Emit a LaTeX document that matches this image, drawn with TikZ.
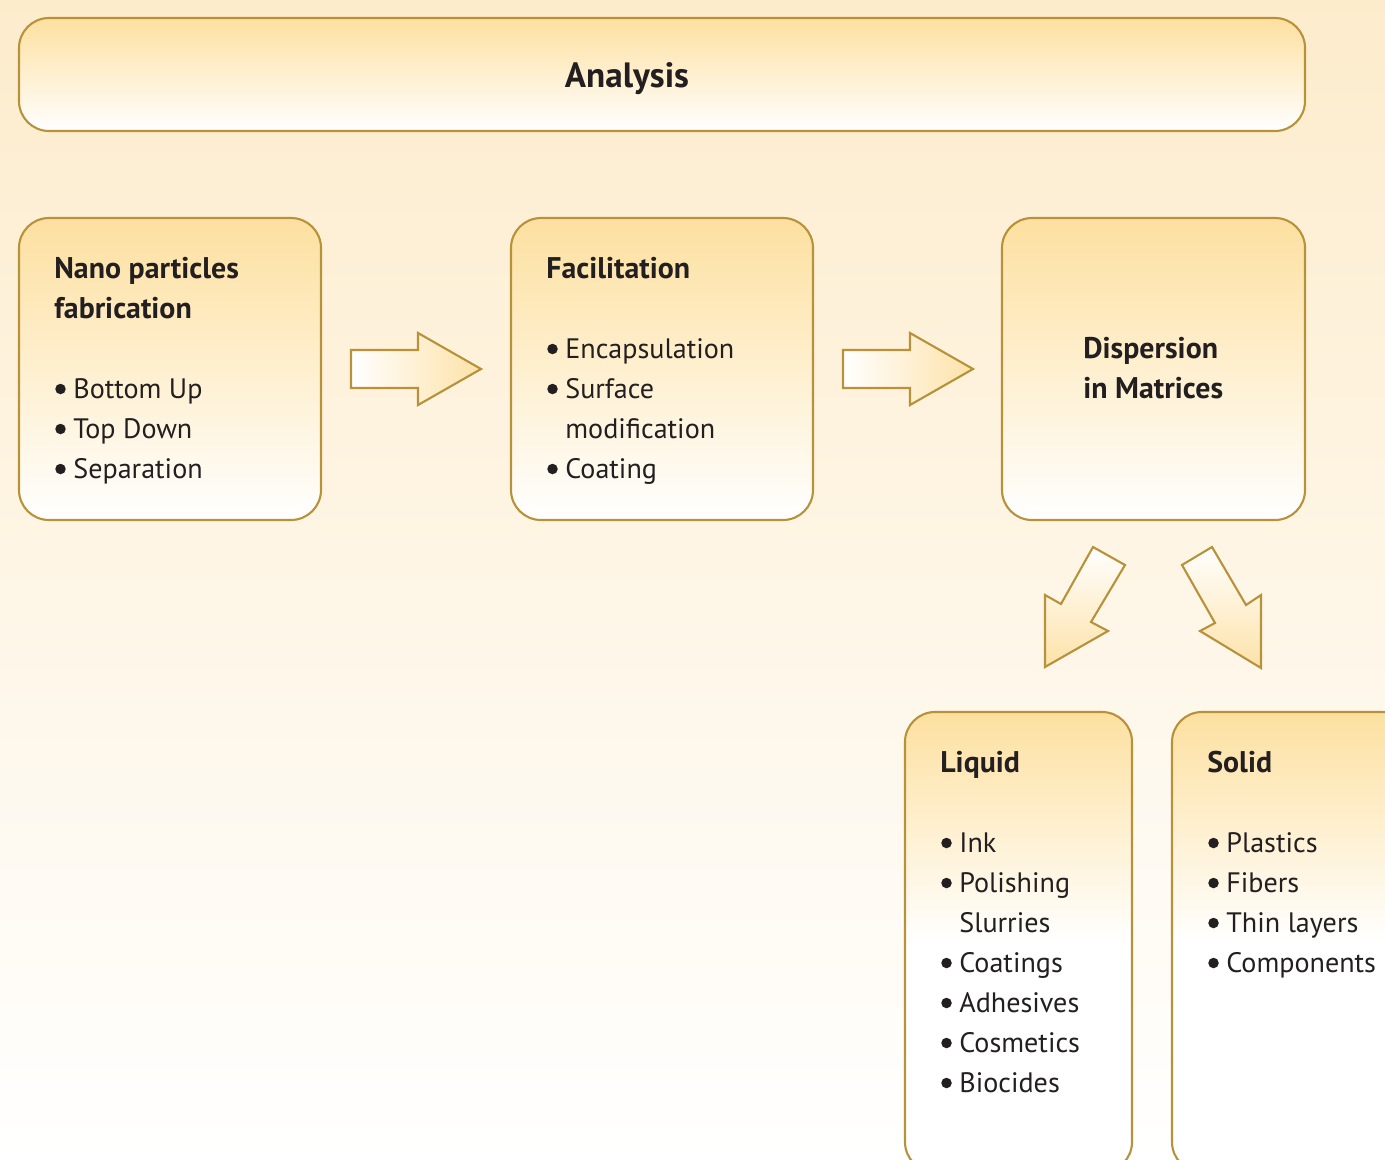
\documentclass[tikz,border=0pt]{standalone}
\usepackage{fontspec}
\setmainfont{PT Sans}
\definecolor{boxline}{RGB}{184,146,58}
\definecolor{boxtop}{RGB}{253,224,160}
\definecolor{bgtop}{RGB}{253,236,204}
\definecolor{arrowend}{RGB}{253,226,168}
\definecolor{inktxt}{RGB}{35,31,32}
\tikzset{
  stepbox/.style={draw=boxline, line width=1.2pt, rounded corners=0.6cm,
    top color=boxtop, bottom color=white},
  tallbox/.style={stepbox, middle color=white},
  blockarr/.style={draw=boxline, line width=1.2pt, line join=miter},
  boxtitle/.style={anchor=base west, inner sep=0pt, text=inktxt,
    font=\fontsize{17}{20}\selectfont\bfseries},
  boxitem/.style={anchor=base west, inner sep=0pt, text=inktxt,
    font=\fontsize{16}{19}\selectfont},
  bulletdot/.style={fill=inktxt},
}

\begin{document}
\begin{tikzpicture}[x=0.02cm, y=-0.02cm]
    \useasboundingbox (0,0) rectangle (1385,1159);
    \clip (0,0) rectangle (1385,1159);
    % background
    \shade[top color=bgtop, bottom color=white] (0,0) rectangle (1385,1159);
    % analysis bar
    \draw[stepbox] (19,18) rectangle (1305,131);
    \node[boxtitle, anchor=base, font=\fontsize{20}{24}\selectfont\bfseries]
      (analysis) at (627,88) {Analysis};
    % the three steps
    \draw[stepbox] (19,218) rectangle (321,520);
    \draw[stepbox] (511,218) rectangle (813,520);
    \draw[stepbox] (1002,218) rectangle (1305,520);
    % the two kinds of matrix
    \draw[tallbox] (905,712) rectangle (1132,1172);
    \draw[tallbox] (1172,712) rectangle (1412,1172);
    % arrows between steps
    \foreach \ax in {351,843}
      \draw[blockarr, left color=white, right color=arrowend, xshift=\ax*0.02cm]
        (0,350) -- (67,350) -- (67,333) -- (130,369) -- (67,405) -- (67,388)
        -- (0,388) -- cycle;
    % arrows down to liquid / solid
    \draw[blockarr, top color=white, bottom color=arrowend]
      (1093,547) -- (1125,565) -- (1091,622) -- (1108,631) -- (1045,667)
      -- (1045,595) -- (1061,604) -- cycle;
    \draw[blockarr, top color=white, bottom color=arrowend]
      (1212,547) -- (1182,565) -- (1215,623) -- (1200,631) -- (1261,668)
      -- (1261,595) -- (1246,605) -- cycle;
    % texts
    \node[boxtitle] (fab-a) at (54,278) {Nano particles};
    \node[boxtitle] (fab-b) at (54,318) {fabrication};
    \foreach \b/\txt [count=\i] in {1/Bottom Up, 1/Top Down, 1/Separation} {
      \node[boxitem] (fab-\i) at (73,358+40*\i) {\txt};
      \ifnum\b=1 \fill[bulletdot] (fab-\i.base west) ++(-12.5,-9) circle [radius=0.105cm]; \fi
    }
    \node[boxtitle] (fac-a) at (546,278) {Facilitation};
    \foreach \b/\txt [count=\i] in {1/Encapsulation, 1/Surface,
        0/modification, 1/Coating} {
      \node[boxitem] (fac-\i) at (565,318+40*\i) {\txt};
      \ifnum\b=1 \fill[bulletdot] (fac-\i.base west) ++(-12.5,-9) circle [radius=0.105cm]; \fi
    }
    \node[boxtitle] (disp-a) at (1083,358) {Dispersion};
    \node[boxtitle] (disp-b) at (1083,398) {in Matrices};
    \node[boxtitle] (liq-a) at (940,772) {Liquid};
    \foreach \b/\txt [count=\i] in {1/Ink, 1/Polishing, 0/Slurries,
        1/Coatings, 1/Adhesives, 1/Cosmetics, 1/Biocides} {
      \node[boxitem] (liq-\i) at (959,812+40*\i) {\txt};
      \ifnum\b=1 \fill[bulletdot] (liq-\i.base west) ++(-12.5,-9) circle [radius=0.105cm]; \fi
    }
    \node[boxtitle] (sol-a) at (1207,772) {Solid};
    \foreach \b/\txt [count=\i] in {1/Plastics, 1/Fibers, 1/Thin layers,
        1/Components} {
      \node[boxitem] (sol-\i) at (1226,812+40*\i) {\txt};
      \ifnum\b=1 \fill[bulletdot] (sol-\i.base west) ++(-12.5,-9) circle [radius=0.105cm]; \fi
    }
\end{tikzpicture}
\end{document}
